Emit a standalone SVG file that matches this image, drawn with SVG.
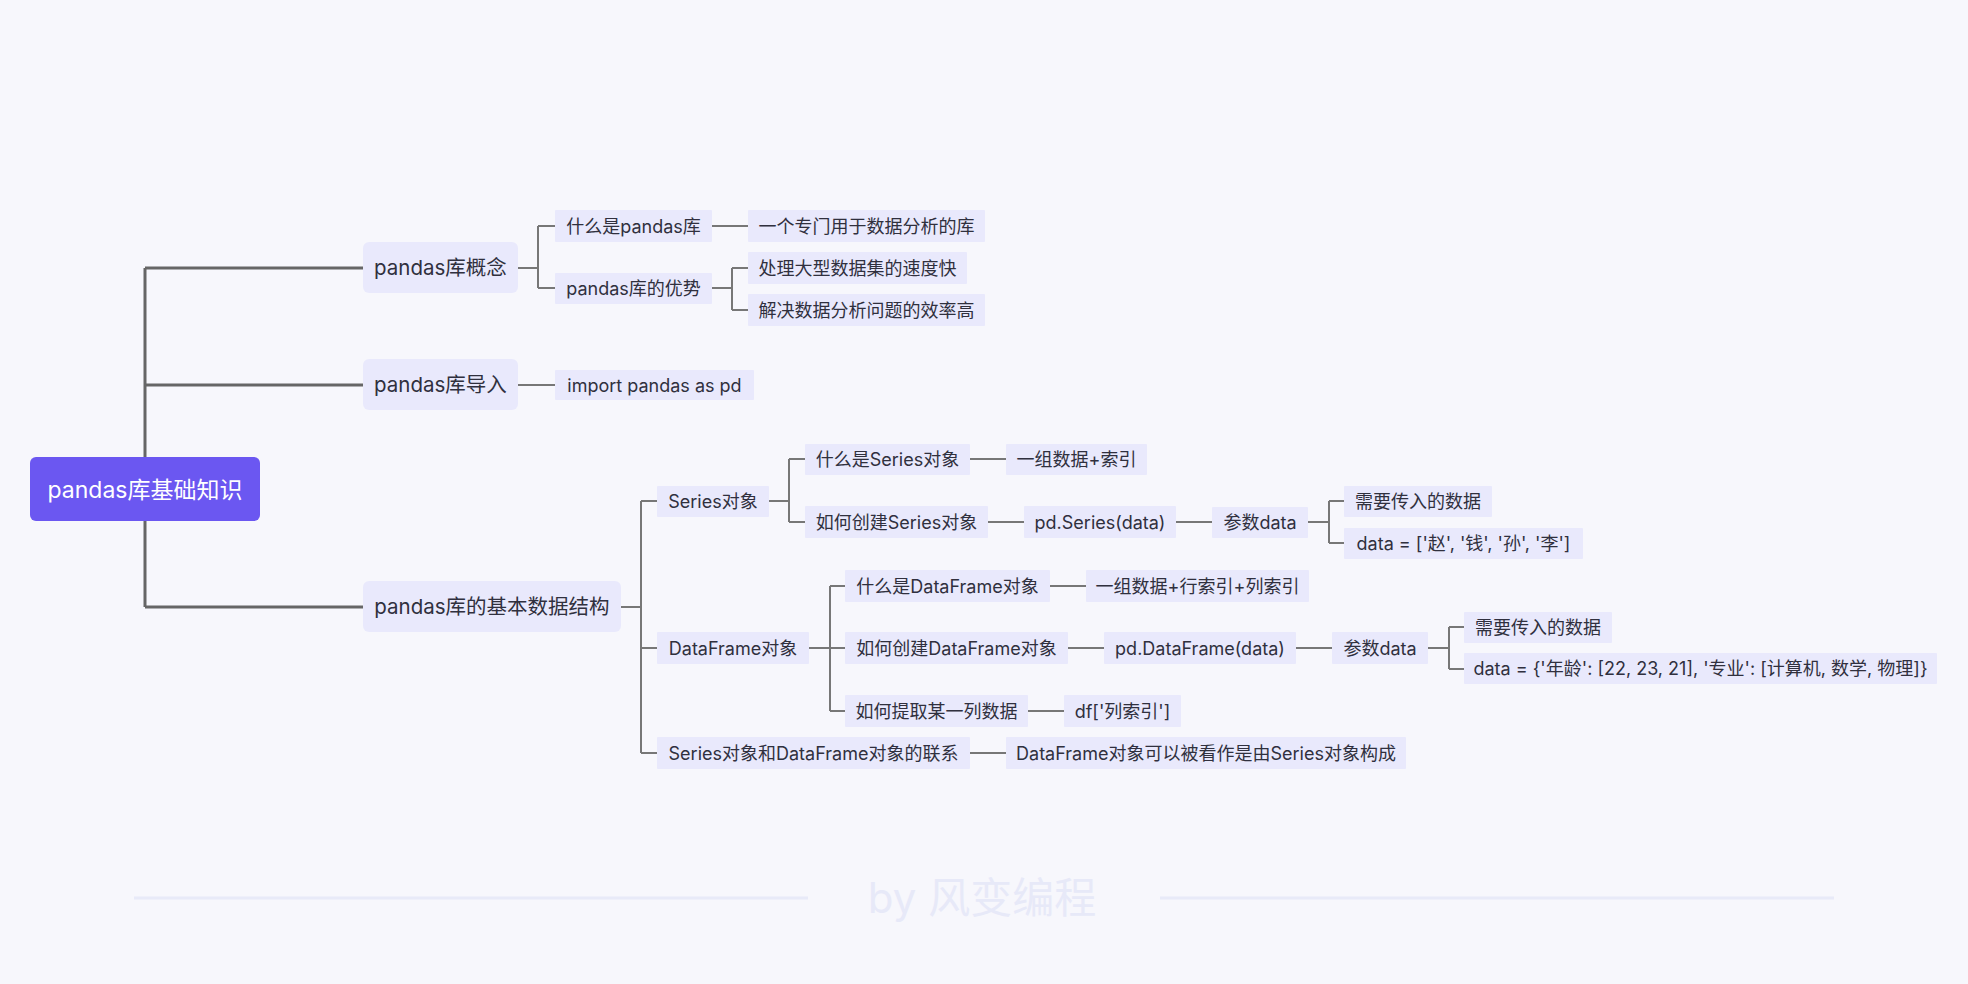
<svg xmlns="http://www.w3.org/2000/svg" width="1968" height="984" viewBox="0 0 1968 984">
  <style>
    text { font-family: Inter, "Noto Sans CJK SC", sans-serif; fill: #30303E; text-anchor: middle; }
    .root rect { fill: #6B57F1; }
    .root text { fill: #FFFFFF; font-size: 23px; }
    .l1 rect { fill: #E9E9FC; }
    .l1 text { font-size: 20.5px; }
    .leaf rect { fill: #E9E9FC; }
    .leaf text { font-size: 18px; }
    .trunk { stroke: #666666; stroke-width: 3; fill: none; }
    .branch { stroke: #777777; stroke-width: 2; fill: none; }
    .footer-line { stroke: #E8EAF8; stroke-width: 3; }
    .footer-text { font-size: 42px; fill: #E7E9F8; }
  </style>

  <rect x="0" y="0" width="1968" height="984" fill="#F7F7FC"/>

  <!-- connectors -->
  <g id="connectors">
    <!-- root trunk -->
    <path class="trunk" d="M145 268 V607 M145 268 H363 M145 385 H363 M145 607 H363"/>
    <!-- pandas库概念 -->
    <path class="branch" d="M518 268 H538 M538 226 V288 M538 226 H555 M538 288 H555"/>
    <path class="branch" d="M712 226 H748"/>
    <path class="branch" d="M712 288 H732 M732 268 V310 M732 268 H748 M732 310 H748"/>
    <!-- pandas库导入 -->
    <path class="branch" d="M518 385 H555"/>
    <!-- pandas库的基本数据结构 -->
    <path class="branch" d="M621 607 H641 M641 501 V753 M641 501 H657 M641 648 H657 M641 753 H657"/>
    <!-- Series对象 -->
    <path class="branch" d="M769 501 H789 M789 459 V522 M789 459 H805 M789 522 H805"/>
    <path class="branch" d="M970 459 H1006"/>
    <path class="branch" d="M988 522 H1024 M1176 522 H1212"/>
    <path class="branch" d="M1308 522 H1329 M1329 501 V543 M1329 501 H1344 M1329 543 H1344"/>
    <!-- DataFrame对象 -->
    <path class="branch" d="M809 648 H830 M830 586 V711 M830 586 H845 M830 648 H845 M830 711 H845"/>
    <path class="branch" d="M1050 586 H1086"/>
    <path class="branch" d="M1068 648 H1104 M1296 648 H1332"/>
    <path class="branch" d="M1428 648 H1449 M1449 627 V669 M1449 627 H1464 M1449 669 H1464"/>
    <path class="branch" d="M1028 711 H1064"/>
    <!-- Series对象和DataFrame对象的联系 -->
    <path class="branch" d="M970 753 H1006"/>
  </g>

  <!-- root -->
  <g id="root" class="root">
    <rect x="30" y="457" width="230" height="64" rx="6"/>
    <text x="145" y="497.5">pandas库基础知识</text>
  </g>

  <!-- first level -->
  <g id="concept" class="l1">
    <rect x="363" y="242" width="155" height="51" rx="6"/>
    <text x="440.5" y="275">pandas库概念</text>
  </g>
  <g id="import" class="l1">
    <rect x="363" y="359" width="155" height="51" rx="6"/>
    <text x="440.5" y="392">pandas库导入</text>
  </g>
  <g id="structure" class="l1">
    <rect x="363" y="581" width="258" height="51" rx="6"/>
    <text x="492" y="614">pandas库的基本数据结构</text>
  </g>

  <!-- concept branch -->
  <g id="what-is-pandas" class="leaf">
    <rect x="555" y="210" width="157" height="32" rx="1"/>
    <text x="633.5" y="232.5">什么是pandas库</text>
  </g>
  <g id="pandas-def" class="leaf">
    <rect x="748" y="210" width="237" height="32" rx="1"/>
    <text x="866.5" y="232.5">一个专门用于数据分析的库</text>
  </g>
  <g id="pandas-adv" class="leaf">
    <rect x="555" y="273" width="157" height="31" rx="1"/>
    <text x="633.5" y="295">pandas库的优势</text>
  </g>
  <g id="adv-speed" class="leaf">
    <rect x="748" y="252" width="219" height="32" rx="1"/>
    <text x="857.5" y="274.5">处理大型数据集的速度快</text>
  </g>
  <g id="adv-efficiency" class="leaf">
    <rect x="748" y="294" width="237" height="32" rx="1"/>
    <text x="866.5" y="316.5">解决数据分析问题的效率高</text>
  </g>

  <!-- import branch -->
  <g id="import-stmt" class="leaf">
    <rect x="555" y="370" width="199" height="30" rx="1"/>
    <text x="654.5" y="391.5">import pandas as pd</text>
  </g>

  <!-- structure branch -->
  <g id="series" class="leaf">
    <rect x="657" y="486" width="112" height="31" rx="1"/>
    <text x="713" y="508">Series对象</text>
  </g>
  <g id="series-what" class="leaf">
    <rect x="805" y="444" width="165" height="31" rx="1"/>
    <text x="887.5" y="466">什么是Series对象</text>
  </g>
  <g id="series-def" class="leaf">
    <rect x="1006" y="444" width="141" height="31" rx="1"/>
    <text x="1076.5" y="466">一组数据+索引</text>
  </g>
  <g id="series-how" class="leaf">
    <rect x="805" y="506" width="183" height="32" rx="1"/>
    <text x="896.5" y="528.5">如何创建Series对象</text>
  </g>
  <g id="series-ctor" class="leaf">
    <rect x="1024" y="506" width="152" height="32" rx="1"/>
    <text x="1100" y="528.5">pd.Series(data)</text>
  </g>
  <g id="series-param" class="leaf">
    <rect x="1212" y="507" width="96" height="31" rx="1"/>
    <text x="1260" y="529">参数data</text>
  </g>
  <g id="series-param-desc" class="leaf">
    <rect x="1344" y="486" width="148" height="31" rx="1"/>
    <text x="1418" y="508">需要传入的数据</text>
  </g>
  <g id="series-param-example" class="leaf">
    <rect x="1344" y="528" width="239" height="31" rx="1"/>
    <text x="1463.5" y="550">data = ['赵', '钱', '孙', '李']</text>
  </g>

  <g id="dataframe" class="leaf">
    <rect x="657" y="632" width="152" height="32" rx="1"/>
    <text x="733" y="654.5">DataFrame对象</text>
  </g>
  <g id="df-what" class="leaf">
    <rect x="845" y="570" width="205" height="32" rx="1"/>
    <text x="947.5" y="592.5">什么是DataFrame对象</text>
  </g>
  <g id="df-def" class="leaf">
    <rect x="1086" y="570" width="223" height="32" rx="1"/>
    <text x="1197.5" y="592.5">一组数据+行索引+列索引</text>
  </g>
  <g id="df-how" class="leaf">
    <rect x="845" y="632" width="223" height="32" rx="1"/>
    <text x="956.5" y="654.5">如何创建DataFrame对象</text>
  </g>
  <g id="df-ctor" class="leaf">
    <rect x="1104" y="632" width="192" height="32" rx="1"/>
    <text x="1200" y="654.5">pd.DataFrame(data)</text>
  </g>
  <g id="df-param" class="leaf">
    <rect x="1332" y="632" width="96" height="32" rx="1"/>
    <text x="1380" y="654.5">参数data</text>
  </g>
  <g id="df-param-desc" class="leaf">
    <rect x="1464" y="612" width="148" height="31" rx="1"/>
    <text x="1538" y="634">需要传入的数据</text>
  </g>
  <g id="df-param-example" class="leaf">
    <rect x="1464" y="653" width="473" height="31" rx="1"/>
    <text x="1700.5" y="675">data = {'年龄': [22, 23, 21], '专业': [计算机, 数学, 物理]}</text>
  </g>
  <g id="df-column" class="leaf">
    <rect x="845" y="695" width="183" height="32" rx="1"/>
    <text x="936.5" y="717.5">如何提取某一列数据</text>
  </g>
  <g id="df-column-expr" class="leaf">
    <rect x="1064" y="695" width="117" height="32" rx="1"/>
    <text x="1122.5" y="717.5">df['列索引']</text>
  </g>

  <g id="relation" class="leaf">
    <rect x="657" y="737" width="313" height="32" rx="1"/>
    <text x="813.5" y="759.5">Series对象和DataFrame对象的联系</text>
  </g>
  <g id="relation-desc" class="leaf">
    <rect x="1006" y="737" width="400" height="32" rx="1"/>
    <text x="1206" y="759.5">DataFrame对象可以被看作是由Series对象构成</text>
  </g>

  <!-- footer -->
  <g id="footer">
    <line class="footer-line" x1="134" y1="898" x2="808" y2="898"/>
    <line class="footer-line" x1="1160" y1="898" x2="1834" y2="898"/>
    <text class="footer-text" x="982" y="913">by 风变编程</text>
  </g>
</svg>
